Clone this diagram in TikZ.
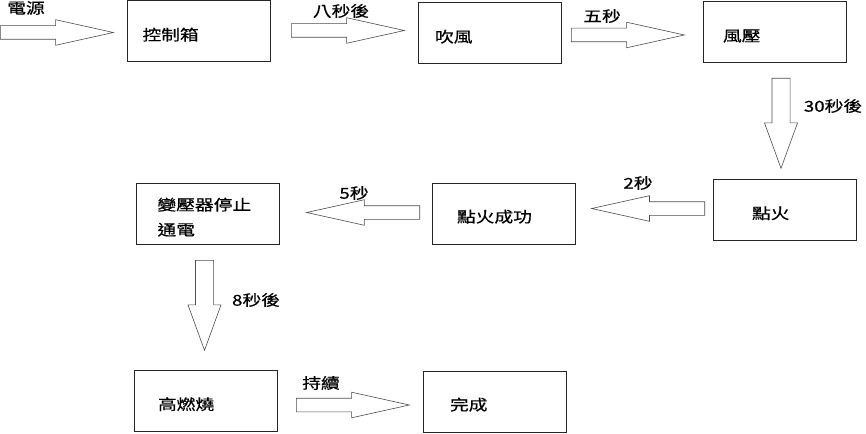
\documentclass[tikz,border=0pt]{standalone}
\usepackage{fontspec}
\usepackage{tikz}
\usetikzlibrary{shapes.arrows, positioning}
\newfontfamily\zhfont[FakeStretch=1.25, FakeBold=0.6]{Noto Sans CJK TC}

\begin{document}
\begin{tikzpicture}[x=1pt, y=-1pt,
  box/.style={draw=black!85, line width=1pt, minimum height=61pt, inner xsep=#1, text width={143pt-2*#1}, text height=19pt, align=left, font=\zhfont\fontsize{15}{25}\selectfont},
  box/.default=20pt,
  harrow/.style={single arrow, draw=black!70, line width=0.6pt, inner sep=0pt, inner ysep=6.5pt, minimum height=113pt, single arrow head extend=6pt, single arrow tip angle=25, anchor=tail},
  varrow/.style={single arrow, draw=black!70, line width=0.6pt, inner sep=0pt, inner ysep=8.75pt, minimum height=90pt, single arrow head extend=7.5pt, single arrow tip angle=40, anchor=tail, rotate=-90},
  lbl/.style={font=\zhfont\fontsize{15}{18}\selectfont, inner sep=0pt}]

  \useasboundingbox (0,0) rectangle (866,433);

  % boxes
  \node[box=15pt] (ctrl) at (199,31.5) {控制箱};
  \node[box=17pt] (blow) at (489.5,33.5) {吹風};
  \node[box=20pt] (press) at (774.5,32.5) {風壓};
  \node[box=39pt] (ignite) at (784.5,210) {點火};
  \node[box=25pt] (lit) at (503.5,213.5) {點火成功};
  \node[box=21pt] (stop) at (208,214) {變壓器停止\\通電};
  \node[box=24pt] (burn) at (205.5,401) {高燃燒};
  \node[box=27pt] (done) at (494.5,401.5) {完成};

  % block arrows
  \node[harrow] (a0) at (0,32.5) {};
  \node[harrow] (a1) at (291,30.5) {};
  \node[harrow] (a2) at (571,35) {};
  \node[varrow] (a3) at (781,78) {};
  \node[harrow, rotate=180] (a4) at (705,208.5) {};
  \node[harrow, rotate=180] (a5) at (420,212.5) {};
  \node[varrow] (a6) at (204.5,260) {};
  \node[harrow] (a7) at (296,405) {};

  % labels
  \node[lbl] (l0) at (26,8) {電源};
  \node[lbl] (l1) at (341,11) {八秒後};
  \node[lbl] (l2) at (602,16) {五秒};
  \node[lbl] (l3) at (833,106) {30秒後};
  \node[lbl] (l4) at (638,183) {2秒};
  \node[lbl] (l5) at (354,193) {5秒};
  \node[lbl] (l6) at (256,300) {8秒後};
  \node[lbl] (l7) at (321,383) {持續};

\end{tikzpicture}
\end{document}
